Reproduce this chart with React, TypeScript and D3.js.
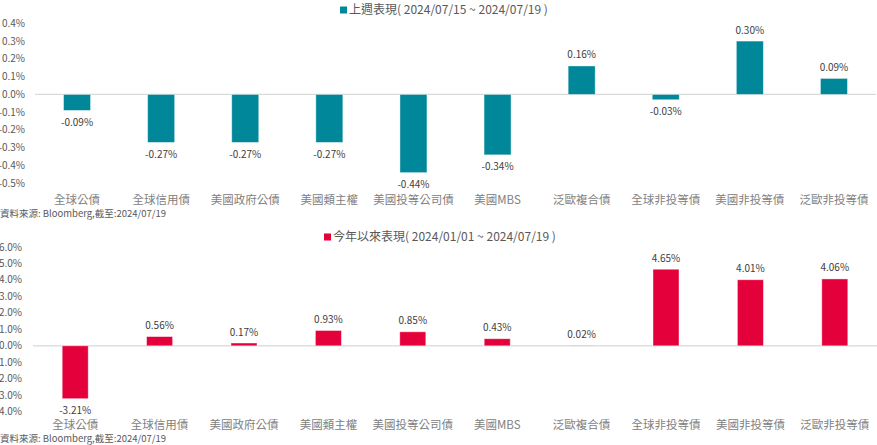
import React from "react";
import * as d3 from "d3";

const categories = ["全球公債", "全球信用債", "美國政府公債", "美國類主權", "美國投等公司債", "美國MBS", "泛歐複合債", "全球非投等債", "美國非投等債", "泛歐非投等債"];
const weekValues = [-0.09, -0.27, -0.27, -0.27, -0.44, -0.34, 0.16, -0.03, 0.30, 0.09];
const ytdValues = [-3.21, 0.56, 0.17, 0.93, 0.85, 0.43, 0.02, 4.65, 4.01, 4.06];
const weekTicks = [0.4, 0.3, 0.2, 0.1, 0, -0.1, -0.2, -0.3, -0.4, -0.5];
const ytdTicks = [6, 5, 4, 3, 2, 1, 0, -1, -2, -3, -4];
const weekTitle = "上週表現( 2024/07/15 ~ 2024/07/19 )";
const ytdTitle = "今年以來表現( 2024/01/01 ~ 2024/07/19 )";
const sourceText = "資料來源: Bloomberg,截至:2024/07/19";

const FONT = "'Noto Sans CJK TC', 'Noto Sans', sans-serif";

type PanelProps = {
  values: number[];
  ticks: number[];
  domain: [number, number];
  yTop: number;
  yBottom: number;
  x0: number;
  x1: number;
  labelX: number;
  color: string;
  title: string;
  legendX: number;
  legendY: number;
  catY: number;
  srcY: number;
  barW: number;
};

function Panel(p: PanelProps) {
  const x = d3.scaleBand<string>().domain(categories).range([p.x0, p.x1]);
  const y = d3.scaleLinear().domain(p.domain).range([p.yBottom, p.yTop]);
  const y0 = y(0);
  return (
    <g fontFamily={FONT}>
      <rect x={p.legendX} y={p.legendY - 3.5} width={7} height={7} fill={p.color} />
      <text x={p.legendX + 9} y={p.legendY} dy="0.35em" fontSize={12} fill="#595959">{p.title}</text>
      {p.ticks.map((t) => (
        <text key={t} x={p.labelX} y={y(t)} dy="0.35em" textAnchor="end" fontSize={10} fill="#595959">
          {t.toFixed(1) + "%"}
        </text>
      ))}
      <line x1={p.x0} x2={p.x1} y1={y0} y2={y0} stroke="#d9d9d9" strokeWidth={1.2} />
      {p.values.map((v, i) => {
        const cx = (x(categories[i]) as number) + x.bandwidth() / 2;
        const yv = y(v);
        const top = Math.min(yv, y0);
        const h = Math.abs(yv - y0);
        const ly = v >= 0 ? yv - 11 : yv + 12;
        return (
          <g key={i}>
            <rect x={cx - p.barW / 2} y={top} width={p.barW} height={h} fill={p.color} stroke="#ffffff" strokeOpacity={0.5} strokeWidth={0.8} />
            <text x={cx} y={ly} dy="0.35em" textAnchor="middle" fontSize={10} fill="#404040">
              {v.toFixed(2) + "%"}
            </text>
          </g>
        );
      })}
      {categories.map((c) => (
        <text key={c} x={(x(c) as number) + x.bandwidth() / 2} y={p.catY} dy="0.35em" textAnchor="middle" fontSize={11.5} fill="#808080">
          {c}
        </text>
      ))}
      <text x={0} y={p.srcY} dy="0.35em" fontSize={9.5} fill="#595959">{sourceText}</text>
    </g>
  );
}

export default function App() {
  return (
    <svg width={877} height={445} style={{ position: "absolute", left: 0, top: 0, background: "#fff" }}>
      <Panel
        values={weekValues}
        ticks={weekTicks}
        domain={[-0.5, 0.4]}
        yTop={23.3}
        yBottom={183.3}
        x0={35}
        x1={876}
        labelX={25}
        color="#00889A"
        title={weekTitle}
        legendX={340}
        legendY={10}
        catY={200}
        srcY={214}
        barW={27}
      />
      <Panel
        values={ytdValues}
        ticks={ytdTicks}
        domain={[-4, 6]}
        yTop={247}
        yBottom={411.7}
        x0={33}
        x1={877}
        labelX={22}
        color="#E4003A"
        title={ytdTitle}
        legendX={324}
        legendY={237}
        catY={425}
        srcY={439}
        barW={26}
      />
    </svg>
  );
}
